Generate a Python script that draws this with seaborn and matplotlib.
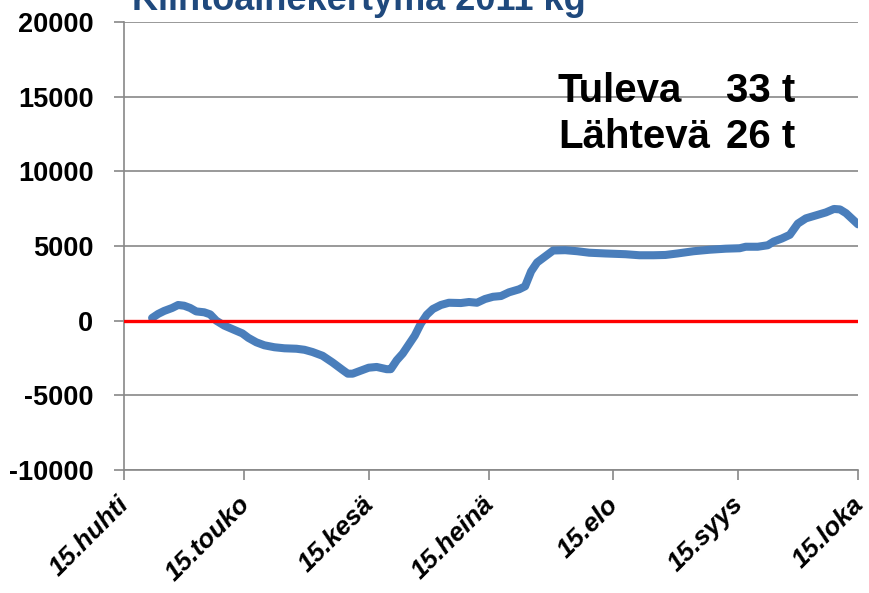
import matplotlib
matplotlib.use("Agg")
import matplotlib.pyplot as plt
import matplotlib.transforms as mtransforms
import seaborn as sns
import pandas as pd

# days counted from 15 April 2011
days = [7, 8.5, 10, 12, 13.5, 15, 16.5, 18, 20, 21.5, 23, 25, 27.5, 29.5, 31, 33, 35,
        37.5, 40, 43, 45, 47, 49.5, 52, 54.5, 55.8, 57, 59, 61, 63, 65.5, 66.5, 68,
        69.5, 71, 72.5, 74, 75.5, 77, 79, 81, 84, 86, 88, 90, 92, 94, 96, 98.5, 100,
        101.5, 103, 105, 107, 110, 113, 116, 120, 125, 128.5, 132, 135, 138, 142, 146,
        150, 153.5, 155, 158, 160.5, 162, 164, 166, 168, 170, 172.5, 175, 177, 178.5,
        180, 183]
kg = [180, 450, 650, 850, 1050, 1000, 850, 620, 560, 420, 0, -330, -620, -850, -1150,
      -1450, -1650, -1780, -1850, -1880, -1950, -2100, -2350, -2800, -3300, -3550, -3550,
      -3350, -3150, -3100, -3250, -3250, -2650, -2200, -1600, -1000, -200, 400, 780,
      1050, 1200, 1180, 1250, 1200, 1450, 1600, 1650, 1900, 2100, 2300, 3300, 3900, 4300,
      4700, 4720, 4650, 4550, 4500, 4450, 4380, 4380, 4400, 4500, 4650, 4750, 4820, 4850,
      4950, 4950, 5050, 5300, 5500, 5750, 6500, 6850, 7050, 7250, 7480, 7450, 7200, 6450]

tick_days = [0, 30, 61, 91, 122, 153, 183]
tick_labels = ["15.huhti", "15.touko", "15.kesä", "15.heinä", "15.elo", "15.syys", "15.loka"]
y_ticks = [-10000, -5000, 0, 5000, 10000, 15000, 20000]

title = "Kiintoainekertymä 2011 kg"
notes = [("Tuleva", "33 t"), ("Lähtevä", "26 t")]

sns.set_style("white")
plt.rcParams["font.family"] = ["Liberation Sans", "DejaVu Sans"]
plt.rcParams["text.color"] = "black"
plt.rcParams["xtick.labelcolor"] = "black"
plt.rcParams["ytick.labelcolor"] = "black"

df = pd.DataFrame({"day": days, "kg": kg})

fig = plt.figure(figsize=(8.69, 5.93), dpi=100)
ax = fig.add_axes([124 / 869, 1 - 470 / 593, 734 / 869, 448 / 593])

grid_col = "#888888"
ax.set_axisbelow(True)
ax.yaxis.grid(True, color=grid_col, linewidth=1.2)
ax.xaxis.grid(False)

sns.lineplot(data=df, x="day", y="kg", ax=ax, color="#4A7EBB", linewidth=5.8,
             solid_capstyle="round", solid_joinstyle="round", zorder=2)
ax.axhline(0, color="#FF0000", linewidth=2.4, zorder=3)

ax.set_xlim(0, 183)
ax.set_ylim(-10000, 20000)
ax.set_xticks(tick_days)
ax.set_xticklabels(tick_labels, rotation=45, ha="right", fontsize=19,
                   fontweight="bold", fontstyle="italic", color="black")
ax.set_yticks(y_ticks)
ax.set_yticklabels([str(v) for v in y_ticks], fontsize=19.5, fontweight="bold",
                   color="black")
ax.set_xlabel("")
ax.set_ylabel("")

ax.tick_params(axis="both", direction="out", length=7, width=1.2, color=grid_col,
               bottom=True, left=True)
ax.tick_params(axis="y", pad=15)
ax.tick_params(axis="x", pad=9)
ax.yaxis.get_major_ticks()[2].tick1line.set_color("#FF0000")

offset = mtransforms.ScaledTranslation(10 / 100, 0, fig.dpi_scale_trans)
for lab in ax.get_xticklabels():
    lab.set_transform(lab.get_transform() + offset)

for side in ["top", "right"]:
    ax.spines[side].set_visible(False)
for side in ["left", "bottom"]:
    ax.spines[side].set_color(grid_col)
    ax.spines[side].set_linewidth(1.2)

# annotation block
for i, (word, amount) in enumerate(notes):
    y = 14670 - i * 3100
    ax.text(108.2, y, word, fontsize=29, fontweight="bold", va="baseline", ha="left",
            color="black")
    ax.text(150.0, y, amount, fontsize=29, fontweight="bold", va="baseline", ha="left",
            color="black")

fig.text(132 / 869, 1 - 10 / 593, title, color="#1F497D", fontsize=26,
         fontweight="bold", va="baseline", ha="left")

fig.savefig("out.png", dpi=100)
